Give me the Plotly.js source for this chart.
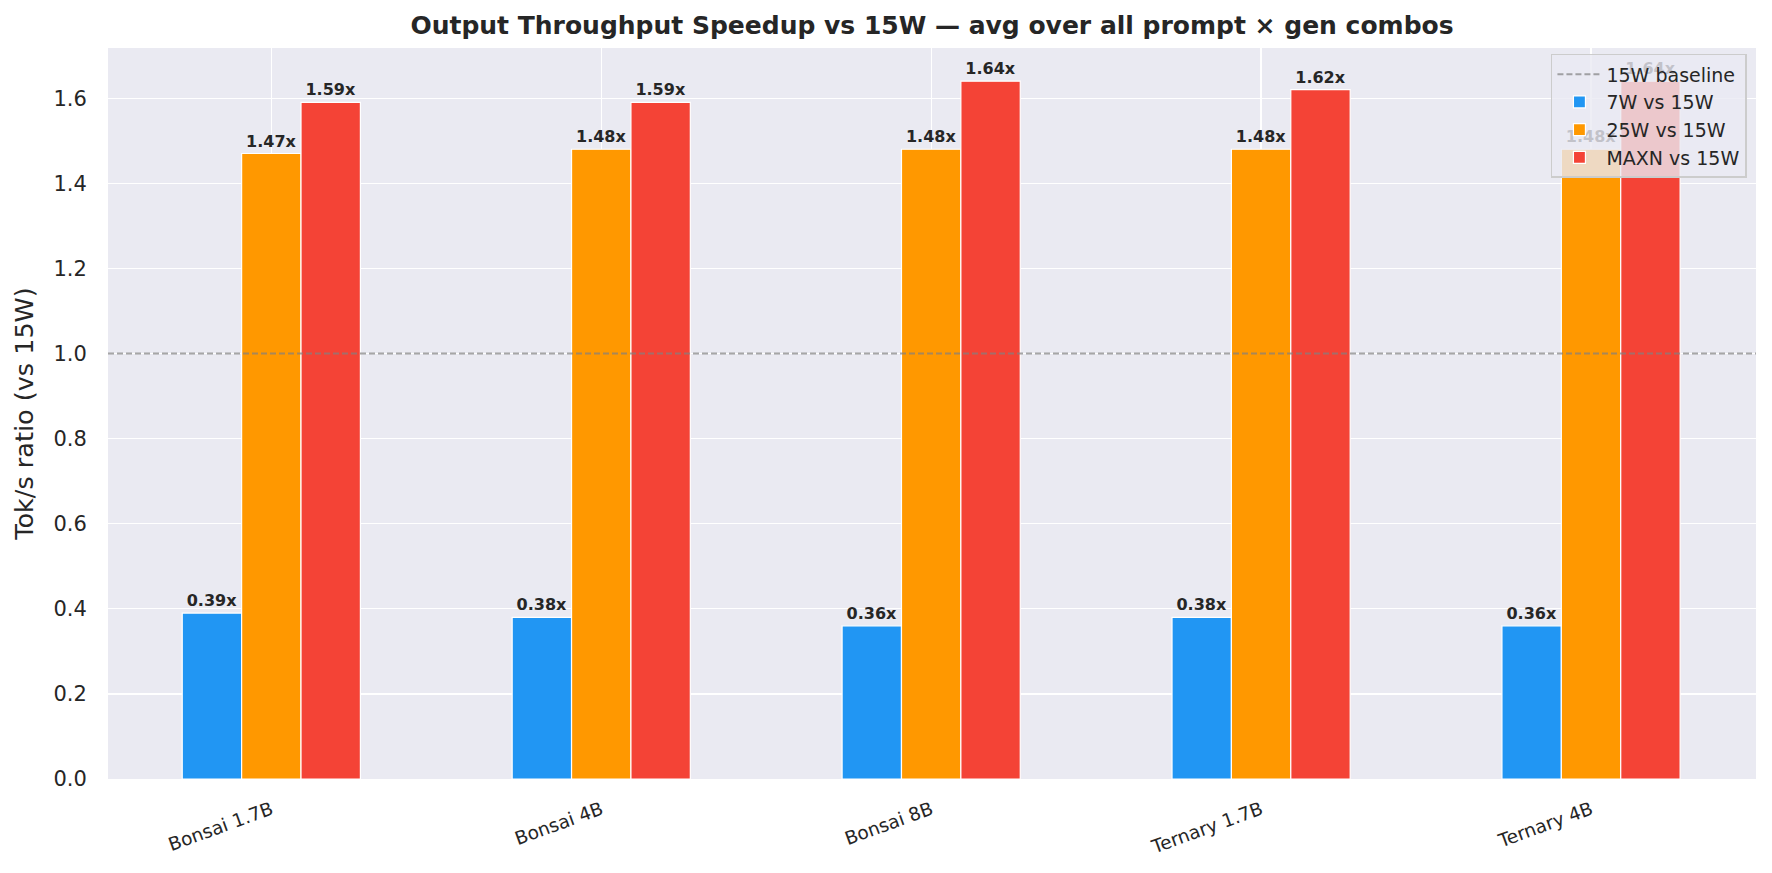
<!DOCTYPE html>
<html>
<head>
<meta charset="utf-8">
<script src="https://cdn.plot.ly/plotly-3.0.1.min.js"></script>
<style>
  html, body { margin: 0; padding: 0; background: #fff; }
  #speedup { width: 1772px; height: 873px; }
</style>
</head>
<body>
<div id="speedup"></div>
<script>
// models on the x axis
const models = ['Bonsai 1.7B', 'Bonsai 4B', 'Bonsai 8B', 'Ternary 1.7B', 'Ternary 4B'];

// tok/s ratio vs the 15W mode, averaged over prompt x gen combos
const ratio7W = [0.39, 0.38, 0.36, 0.38, 0.36];
const ratio25W = [1.47, 1.48, 1.48, 1.48, 1.48];
const ratioMAXN = [1.59, 1.59, 1.64, 1.62, 1.64];

const baseline = 1.0;

const seriesNames = ['7W vs 15W', '25W vs 15W', 'MAXN vs 15W'];
const seriesColors = ['#2196F3', '#FF9800', '#F44336'];

const txt = '#262626';
const font = 'DejaVu Sans, sans-serif';

function barTrace(vals, i) {
  return {
    type: 'bar',
    x: models,
    y: vals,
    name: seriesNames[i],
    legendrank: i + 2,
    marker: { color: seriesColors[i], line: { color: '#ffffff', width: 1.2 } },
    text: vals.map(v => v.toFixed(2) + 'x'),
    textposition: 'outside',
    cliponaxis: false,
    textfont: { family: font, size: 16, color: txt, weight: 'bold' },
    hoverinfo: 'x+y'
  };
}

const data = [ratio7W, ratio25W, ratioMAXN].map(barTrace);

const layout = {
  width: 1772,
  height: 873,
  font: { family: font, color: txt },
  paper_bgcolor: '#ffffff',
  plot_bgcolor: '#EAEAF2',
  margin: { l: 108, r: 16, t: 48, b: 94 },
  title: {
    text: '<b>Output Throughput Speedup vs 15W — avg over all prompt × gen combos</b>',
    font: { size: 25, color: txt },
    xref: 'paper', x: 0.5, xanchor: 'center',
    y: 0.971, yanchor: 'middle'
  },
  barmode: 'group',
  bargap: 0.46,
  bargroupgap: 0,
  xaxis: {
    range: [-0.495, 4.5],
    tickangle: -20,
    tickfont: { size: 18.5, color: txt },
    ticks: 'outside',
    ticklen: 12,
    tickcolor: 'rgba(0,0,0,0)',
    showgrid: true,
    gridcolor: '#ffffff',
    gridwidth: 1.3,
    zeroline: false,
    automargin: false
  },
  yaxis: {
    range: [0, 1.718],
    dtick: 0.2,
    tickformat: '.1f',
    tickfont: { size: 21, color: txt },
    ticks: 'outside',
    ticklen: 16,
    tickcolor: 'rgba(0,0,0,0)',
    gridcolor: '#ffffff',
    gridwidth: 1.3,
    zeroline: false,
    title: { text: 'Tok/s ratio (vs 15W)', font: { size: 25.5, color: txt }, standoff: 12 },
    automargin: false
  },
  shapes: [{
    type: 'line',
    xref: 'paper', x0: 0, x1: 1,
    yref: 'y', y0: baseline, y1: baseline,
    layer: 'above',
    line: { color: 'rgba(128,128,128,0.7)', width: 2, dash: '6px,3px' },
    name: '15W baseline',
    showlegend: true,
    legendrank: 1
  }],
  legend: {
    x: 0.9945, xanchor: 'right',
    y: 0.992, yanchor: 'top',
    bgcolor: 'rgba(234,234,242,0.8)',
    bordercolor: '#cccccc',
    borderwidth: 1.5,
    font: { size: 19, color: txt },
    itemwidth: 44,
    tracegroupgap: 3
  },
  showlegend: true
};

Plotly.newPlot('speedup', data, layout, { displayModeBar: false, staticPlot: true });
</script>
</body>
</html>
